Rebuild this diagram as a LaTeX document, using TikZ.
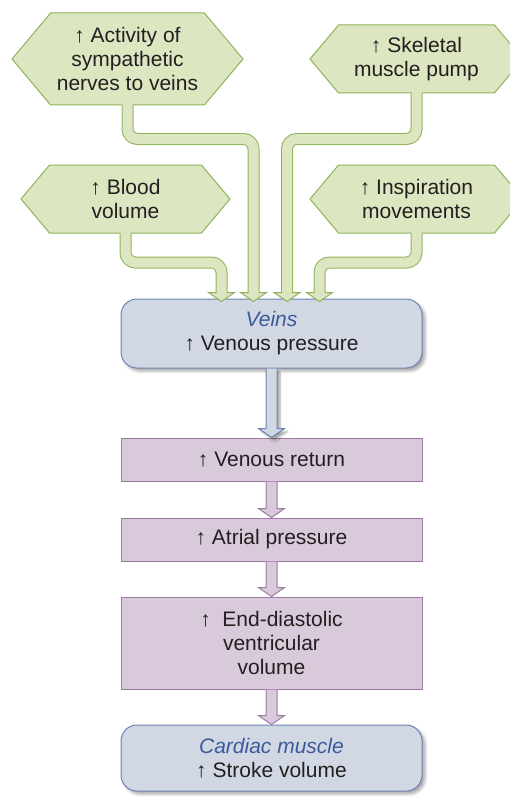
\documentclass[tikz,border=0pt]{standalone}
\usepackage{fontspec}
\setmainfont{Liberation Sans}
\usetikzlibrary{positioning,shapes.symbols,shadows.blur}

\definecolor{leaf}{HTML}{DCE6C1}
\definecolor{leafline}{HTML}{8FB35A}
\definecolor{vein}{HTML}{D1D8E4}
\definecolor{veinline}{HTML}{6C83B2}
\definecolor{veintext}{HTML}{3D5A99}
\definecolor{mauve}{HTML}{D8CADA}
\definecolor{mauveline}{HTML}{9E7AA4}
\definecolor{ink}{HTML}{231F20}

% green pipe from a hexagon down into the veins, #3 = drop before the bend
\newcommand\feed[3]{%
  \draw[pipe] (#1.south) -- ++(0,-#3) -| (#2);
  \filldraw[pipe head] ([xshift=-13pt]#2) -- ([xshift=13pt]#2) -- ([yshift=-9pt]#2) -- cycle;
  \draw[pipe core] ([yshift=2pt]#1.south) -- (#1.south) -- ++(0,-#3) -| ([yshift=-1pt]#2);}

% straight block arrow from one box down to the next
\newcommand\flowarrow[3][]{%
  \filldraw[#1] ([xshift=-5.5pt]#2.south) -- ([xshift=-5.5pt,yshift=9pt]#3.north)
    -- ([xshift=-13pt,yshift=9pt]#3.north) -- (#3.north)
    -- ([xshift=13pt,yshift=9pt]#3.north) -- ([xshift=5.5pt,yshift=9pt]#3.north)
    -- ([xshift=5.5pt]#2.south);}

\tikzset{
  every node/.style={font=\fontsize{21}{24}\selectfont, text=ink, align=center, inner sep=0pt},
  hexnode/.style={shape=signal, signal to=west and east, signal pointer angle=100,
    fill=leaf, draw=leafline, line width=1pt},
  pipe head/.style={fill=leaf, draw=leafline, line width=1pt},
  pipe/.style={draw=leafline, line width=12pt, rounded corners=10pt},
  pipe core/.style={draw=leaf, line width=10pt, rounded corners=10pt},
  organ/.style={rectangle, rounded corners=16pt, fill=vein, draw=veinline, line width=1pt,
    minimum width=301pt, blur shadow={shadow xshift=3pt, shadow yshift=-3pt, shadow blur radius=3pt, shadow opacity=35}},
  stage/.style={rectangle, fill=mauve, draw=mauveline, line width=1pt, minimum width=301pt},
  vein arrow/.style={fill=vein, draw=veinline, line width=1pt,
    blur shadow={shadow xshift=3pt, shadow yshift=-3pt, shadow blur radius=2pt, shadow opacity=35}},
  stage arrow/.style={fill=mauve, draw=mauveline, line width=1pt}
}

\begin{document}
\begin{tikzpicture}[x=1pt, y=1pt, node distance=35pt]
  \useasboundingbox (0,0) rectangle (510,-797);
  \clip (0,0) rectangle (510,-797);

  % causes
  \node[hexnode, minimum width=231pt, minimum height=92pt] (nerves) at (127.5,-59) {↑ Activity of\\sympathetic\\nerves to veins};
  \node[hexnode, minimum width=213pt, minimum height=68pt] (pump) at (416.5,-59) {↑ Skeletal\\muscle pump};
  \node[hexnode, minimum width=209pt, minimum height=68pt] (blood) at (125.5,-199) {↑ Blood\\volume};
  \node[hexnode, minimum width=213pt, minimum height=68pt] (breath) at (416.5,-199) {↑ Inspiration\\movements};

  % chain
  \node[organ, minimum height=69pt] (veins) at (271.5,-333.5) {{\color{veintext}\itshape Veins}\\↑ Venous pressure};
  \node[stage, minimum height=43pt] (return) [below=69pt of veins] {↑ Venous return};
  \node[stage, minimum height=43pt] (atrial) [below=36pt of return] {↑ Atrial pressure};
  \node[stage, minimum height=92pt] (filling) [below=35pt of atrial] {↑\ \ End-diastolic\\ventricular\\volume};
  \node[organ, minimum height=66pt] (heart) [below=35pt of filling] {{\color{veintext}\itshape Cardiac muscle}\\↑ Stroke volume};

  % where the pipes enter the veins
  \coordinate (in nerves) at ([xshift=-18pt,yshift=6pt]veins.north);
  \coordinate (in pump) at ([xshift=15.5pt,yshift=6pt]veins.north);
  \coordinate (in blood) at ([xshift=-50pt,yshift=6pt]veins.north);
  \coordinate (in breath) at ([xshift=48pt,yshift=6pt]veins.north);

  \feed{nerves}{in nerves}{33.5}
  \feed{pump}{in pump}{45.5}
  \feed{blood}{in blood}{29}
  \feed{breath}{in breath}{29}

  \flowarrow[vein arrow]{veins}{return}
  \flowarrow[stage arrow]{return}{atrial}
  \flowarrow[stage arrow]{atrial}{filling}
  \flowarrow[stage arrow]{filling}{heart}
\end{tikzpicture}
\end{document}
